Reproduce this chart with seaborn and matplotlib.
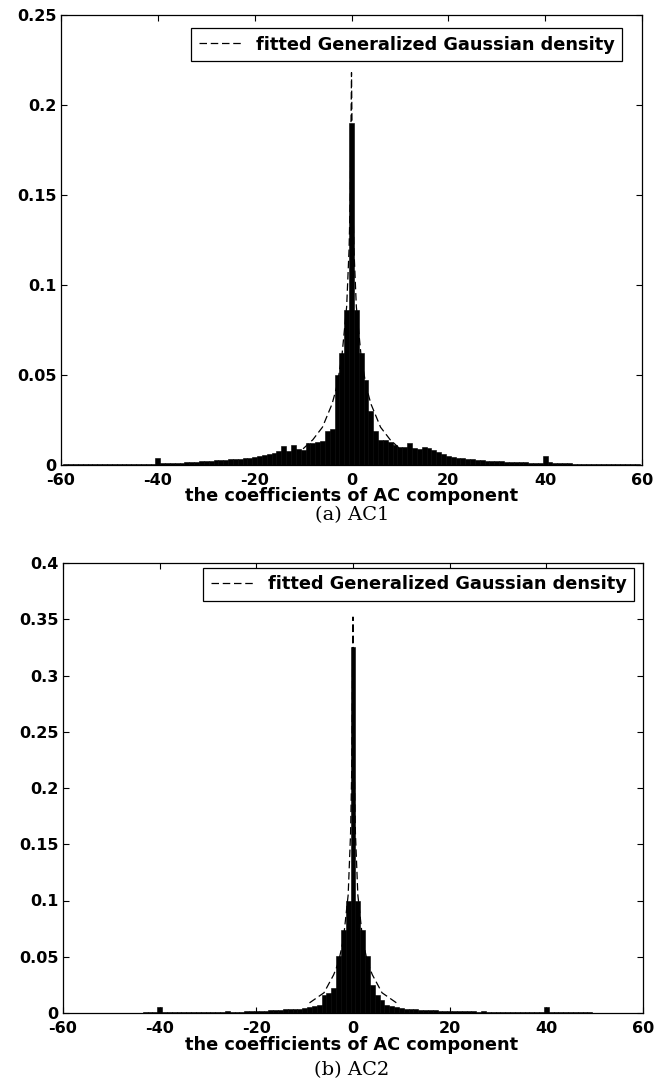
import numpy as np
import pandas as pd
import matplotlib
matplotlib.use("Agg")
import matplotlib.pyplot as plt
import seaborn as sns

# ---------------- data ----------------
# histogram bins are unit width, centred on the integers -59..59
bin_centers = list(range(-59, 60))

# (a) AC1 bin heights, read left (-59) to right (59)
ac1_left = [  # -59 .. -1
    0.0004, 0.0004, 0.0004, 0.0004, 0.0004, 0.0004, 0.0004, 0.0004, 0.0004,   # -59..-51
    0.0006, 0.0006, 0.0007, 0.0006, 0.0007, 0.0007, 0.0008, 0.0007, 0.0008,   # -50..-42
    0.0008, 0.0040, 0.0010, 0.0010, 0.0012, 0.0011, 0.0013, 0.0015, 0.0016,   # -41..-33
    0.0018, 0.0020, 0.0022, 0.0025, 0.0027, 0.0028, 0.0030, 0.0032, 0.0035,   # -32..-24
    0.0036, 0.0038, 0.0040, 0.0045, 0.0050, 0.0055, 0.0060, 0.0065, 0.0080,   # -23..-15
    0.0105, 0.0080, 0.0110, 0.0090, 0.0085, 0.0120, 0.0125, 0.0130, 0.0135,   # -14..-6
    0.0190, 0.0200, 0.0500, 0.0620, 0.0860,                                   # -5..-1
]
ac1_center = [0.1900]
ac1_right = [  # 1 .. 59
    0.0860, 0.0620, 0.0470, 0.0300, 0.0190, 0.0140, 0.0140, 0.0130, 0.0110,   # 1..9
    0.0100, 0.0100, 0.0120, 0.0095, 0.0090, 0.0100, 0.0095, 0.0085, 0.0070,   # 10..18
    0.0060, 0.0050, 0.0045, 0.0040, 0.0040, 0.0035, 0.0032, 0.0030, 0.0028,   # 19..27
    0.0025, 0.0022, 0.0020, 0.0020, 0.0018, 0.0017, 0.0016, 0.0015, 0.0014,   # 28..36
    0.0013, 0.0012, 0.0012, 0.0050, 0.0014, 0.0012, 0.0011, 0.0012, 0.0009,   # 37..45
    0.0007, 0.0006, 0.0006, 0.0005, 0.0005, 0.0005, 0.0004, 0.0004, 0.0004,   # 46..54
    0.0004, 0.0004, 0.0004, 0.0004, 0.0004,                                   # 55..59
]
ac1_heights = ac1_left + ac1_center + ac1_right

# (b) AC2 bin heights
ac2_left = [  # -59 .. -1
    0.0000, 0.0000, 0.0000, 0.0000, 0.0000, 0.0000, 0.0000, 0.0000, 0.0000,   # -59..-51
    0.0004, 0.0004, 0.0004, 0.0004, 0.0004, 0.0004, 0.0004, 0.0005, 0.0005,   # -50..-42
    0.0005, 0.0050, 0.0006, 0.0006, 0.0006, 0.0007, 0.0007, 0.0007, 0.0008,   # -41..-33
    0.0008, 0.0008, 0.0009, 0.0009, 0.0010, 0.0010, 0.0022, 0.0010, 0.0011,   # -32..-24
    0.0013, 0.0014, 0.0016, 0.0018, 0.0020, 0.0022, 0.0025, 0.0027, 0.0030,   # -23..-15
    0.0033, 0.0035, 0.0038, 0.0040, 0.0045, 0.0050, 0.0060, 0.0070, 0.0160,   # -14..-6
    0.0180, 0.0220, 0.0510, 0.0740, 0.1000,                                   # -5..-1
]
ac2_center = [0.3256]
ac2_right = [  # 1 .. 59
    0.1000, 0.0740, 0.0510, 0.0250, 0.0160, 0.0120, 0.0070, 0.0060, 0.0050,   # 1..9
    0.0045, 0.0040, 0.0035, 0.0032, 0.0030, 0.0028, 0.0026, 0.0024, 0.0022,   # 10..18
    0.0020, 0.0020, 0.0018, 0.0017, 0.0016, 0.0015, 0.0014, 0.0013, 0.0020,   # 19..27
    0.0012, 0.0010, 0.0009, 0.0008, 0.0008, 0.0007, 0.0007, 0.0006, 0.0006,   # 28..36
    0.0006, 0.0006, 0.0006, 0.0050, 0.0006, 0.0005, 0.0005, 0.0005, 0.0005,   # 37..45
    0.0005, 0.0005, 0.0005, 0.0005, 0.0004, 0.0000, 0.0000, 0.0000, 0.0000,   # 46..54
    0.0000, 0.0000, 0.0000, 0.0000, 0.0000,                                   # 55..59
]
ac2_heights = ac2_left + ac2_center + ac2_right

# fitted generalized Gaussian density curves
ac1_fit_x = [-10, -8, -6, -4, -3, -2, -1, -0.5, -0.25, 0, 0.25, 0.5, 1, 2, 3, 4, 6, 8, 10]
ac1_fit_y = [0.009, 0.014, 0.021, 0.034, 0.044, 0.060, 0.088, 0.120, 0.150, 0.218,
             0.150, 0.120, 0.088, 0.060, 0.044, 0.034, 0.021, 0.014, 0.009]
ac2_fit_x = [-9, -8, -6, -4, -3, -2, -1, -0.5, -0.25, 0, 0.25, 0.5, 1, 2, 3, 4, 6, 8, 9]
ac2_fit_y = [0.009, 0.012, 0.018, 0.034, 0.045, 0.065, 0.105, 0.160, 0.220, 0.352,
             0.220, 0.160, 0.105, 0.065, 0.045, 0.034, 0.018, 0.012, 0.009]

x_ticks = [-60, -40, -20, 0, 20, 40, 60]
ac1_yticks = [0, 0.05, 0.1, 0.15, 0.2, 0.25]
ac1_yticklabels = ["0", "0.05", "0.1", "0.15", "0.2", "0.25"]
ac2_yticks = [0, 0.05, 0.1, 0.15, 0.2, 0.25, 0.3, 0.35, 0.4]
ac2_yticklabels = ["0", "0.05", "0.1", "0.15", "0.2", "0.25", "0.3", "0.35", "0.4"]

legend_label = "fitted Generalized Gaussian density"
x_label = "the coefficients of AC component"
captions = ["(a) AC1", "(b) AC2"]

# ---------------- figure ----------------
sns.set_theme(style="white")
plt.rcParams["font.family"] = ["DejaVu Sans"]
plt.rcParams["text.color"] = "black"

W, H = 671, 1089
fig = plt.figure(figsize=(W / 100, H / 100), dpi=100)

FS_TICK = 11.5
FS_TEXT = 12.8
panels = [
    dict(rect=[61 / W, 1 - 465 / H, 581 / W, 450 / H], heights=ac1_heights,
         fx=ac1_fit_x, fy=ac1_fit_y, ylim=0.25, yt=ac1_yticks, ytl=ac1_yticklabels,
         leg=(0.9656, 0.971), cap=captions[0], xlabel_y=496, caption_y=515),
    dict(rect=[63 / W, 1 - 1013 / H, 580 / W, 450 / H], heights=ac2_heights,
         fx=ac2_fit_x, fy=ac2_fit_y, ylim=0.4, yt=ac2_yticks, ytl=ac2_yticklabels,
         leg=(0.9845, 0.989), cap=captions[1], xlabel_y=1045, caption_y=1070),
]

edges = [c - 0.5 for c in bin_centers] + [bin_centers[-1] + 0.5]

for p in panels:
    ax = fig.add_axes(p["rect"])
    df = pd.DataFrame({"x": bin_centers, "h": p["heights"]})
    sns.histplot(data=df, x="x", weights="h", bins=edges, ax=ax,
                 color="black", edgecolor="black", alpha=1.0, linewidth=0.4,
                 stat="count")
    fdf = pd.DataFrame({"x": p["fx"], "y": p["fy"]})
    sns.lineplot(data=fdf, x="x", y="y", ax=ax, color="black", linewidth=0.9,
                 dashes=False, label=legend_label)
    ax.lines[-1].set_dashes((6, 3))
    ax.set_xlim(-60, 60)
    ax.set_ylim(0, p["ylim"])
    ax.set_xticks(x_ticks)
    ax.set_xticklabels([str(t) for t in x_ticks], fontsize=FS_TICK, fontweight="bold")
    ax.set_yticks(p["yt"])
    ax.set_yticklabels(p["ytl"], fontsize=FS_TICK, fontweight="bold")
    ax.tick_params(direction="in", length=4, width=0.8, top=True, right=True,
                   bottom=True, left=True, colors="black")
    ax.tick_params(axis="x", pad=5.5)
    ax.tick_params(axis="y", pad=3)
    for s in ax.spines.values():
        s.set_color("black")
        s.set_linewidth(0.9)
    ax.set_ylabel("")
    ax.set_xlabel("")
    leg = ax.legend(loc="upper right", bbox_to_anchor=p["leg"], frameon=True,
                    fancybox=False, edgecolor="black", framealpha=1,
                    handlelength=2.4, borderpad=0.42, handletextpad=0.8,
                    borderaxespad=0.0,
                    prop={"weight": "bold", "size": FS_TEXT})
    leg.get_frame().set_linewidth(0.9)
    for t in leg.get_texts():
        t.set_color("black")
    fig.text(352 / W, 1 - p["xlabel_y"] / H, x_label, ha="center", va="center",
             fontsize=FS_TEXT, fontweight="bold", color="black")
    fig.text(352 / W, 1 - p["caption_y"] / H, p["cap"], ha="center", va="center",
             fontsize=14, family=["DejaVu Serif"], color="black")

fig.savefig("out.png", dpi=100)
